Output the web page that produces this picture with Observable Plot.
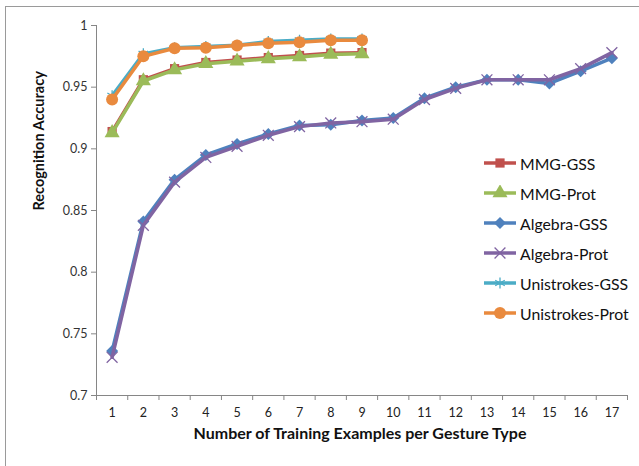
<!DOCTYPE html>
<html><head><meta charset="utf-8">
<script src="https://cdn.jsdelivr.net/npm/d3@7"></script>
<script src="https://cdn.jsdelivr.net/npm/@observablehq/plot@0.6"></script>
<style>
body{margin:0;background:#fff;}
#wrap{position:relative;width:639px;height:466px;font-family:Lato,"Open Sans",sans-serif;overflow:hidden;}
#border{position:absolute;left:5px;top:6px;width:700px;height:520px;border:1.5px solid #9a9a9a;box-sizing:border-box;pointer-events:none;}
#legend{position:absolute;left:483px;top:148px;}
.row{height:30px;display:flex;align-items:center;font-size:15.8px;color:#111;}
.row svg{margin-right:3px;}
</style></head>
<body>
<div id="wrap"><div id="border"></div><div id="legend"></div></div>
<script>
// ---- data ----
const examples = [1,2,3,4,5,6,7,8,9,10,11,12,13,14,15,16,17];
const xBoundaries = [0.5,1.5,2.5,3.5,4.5,5.5,6.5,7.5,8.5,9.5,10.5,11.5,12.5,13.5,14.5,15.5,16.5,17.5];
const yTicks = [0.7,0.75,0.8,0.85,0.9,0.95,1];
const seriesNames = ["MMG-GSS","MMG-Prot","Algebra-GSS","Algebra-Prot","Unistrokes-GSS","Unistrokes-Prot"];
const mmgGss   = [0.914,0.956,0.965,0.970,0.972,0.974,0.9757,0.9776,0.978];
const mmgProt  = [0.913,0.955,0.964,0.969,0.971,0.973,0.9745,0.9765,0.977];
const algebraGss  = [0.736,0.841,0.875,0.895,0.904,0.912,0.919,0.9195,0.923,0.925,0.941,0.950,0.956,0.956,0.953,0.963,0.9735];
const algebraProt = [0.731,0.838,0.873,0.893,0.902,0.911,0.918,0.921,0.922,0.924,0.940,0.949,0.956,0.956,0.956,0.965,0.978];
const uniGss   = [0.943,0.977,0.982,0.983,0.984,0.987,0.988,0.989,0.989];
const uniProt  = [0.940,0.975,0.9816,0.982,0.9838,0.9857,0.9865,0.988,0.988];

const seriesValues = [mmgGss, mmgProt, algebraGss, algebraProt, uniGss, uniProt];
const colors  = ["#C0504D","#9BBB59","#4F81BD","#8064A2","#4BACC6","#E98A3E"];
const symbols = ["square","triangle","diamond2","times","asterisk","circle"];
const symbolR = [5.2,5.6,5.4,5,5.2,6];
const filled  = [true,true,true,false,false,true];

const rows = [];
seriesNames.forEach((name, i) => seriesValues[i].forEach((v, j) => rows.push({series: name, x: examples[j], y: v})));

const marks = [
  Plot.ruleY([0.7], {stroke: "#868686"}),
  Plot.ruleX([0.5], {stroke: "#868686"}),
  Plot.axisY(yTicks, {tickSize: 5, tickPadding: 4, tickFormat: d => String(+d.toFixed(2)), stroke: "#868686", fill: "#333", fontSize: 12.5, label: null}),
  Plot.axisX(xBoundaries, {tickSize: 5, tickFormat: () => "", stroke: "#868686", label: null}),
  Plot.axisX(examples, {tickSize: 0, tickPadding: 13, fill: "#222", fontSize: 12.5, label: null}),
  Plot.text(["Recognition Accuracy"], {text: d => d, frameAnchor: "left", dx: -57, rotate: -90, fontWeight: "bold", fontSize: 14.5, fill: "#111"}),
  Plot.text(["Number of Training Examples per Gesture Type"], {text: d => d, frameAnchor: "bottom", dy: 43, dx: -2, fontWeight: "bold", fontSize: 16, fill: "#111"})
];
seriesNames.forEach((name, i) => {
  const data = rows.filter(r => r.series === name);
  marks.push(Plot.line(data, {x: "x", y: "y", stroke: colors[i], strokeWidth: 3.5}));
  marks.push(Plot.dot(data, filled[i]
    ? {x: "x", y: "y", symbol: () => symbols[i], r: symbolR[i], fill: colors[i], stroke: "none"}
    : {x: "x", y: "y", symbol: () => symbols[i], r: symbolR[i], stroke: colors[i], strokeWidth: 1.3, fill: "none"}));
});

const chart = Plot.plot({
  width: 639, height: 466,
  marginLeft: 96, marginRight: 12, marginTop: 25, marginBottom: 71,
  x: {domain: [0.5, 17.5], axis: null},
  y: {domain: [0.7, 1], axis: null},
  symbol: {type: "identity"},
  style: {fontFamily: "Lato, 'Open Sans', sans-serif", fontSize: "12px", background: "transparent"},
  marks
});
document.getElementById("wrap").insertBefore(chart, document.getElementById("border"));

// legend
const legend = d3.select("#legend");
const symMap = {square: d3.symbolSquare, triangle: d3.symbolTriangle, diamond2: d3.symbolDiamond2, times: d3.symbolTimes, asterisk: d3.symbolAsterisk, circle: d3.symbolCircle};
seriesNames.forEach((name, i) => {
  const row = legend.append("div").attr("class", "row");
  const svg = row.append("svg").attr("width", 34).attr("height", 16);
  svg.append("line").attr("x1", 1).attr("x2", 33).attr("y1", 8).attr("y2", 8).attr("stroke", colors[i]).attr("stroke-width", 3.5);
  const p = svg.append("path").attr("transform", "translate(17,8)")
    .attr("d", d3.symbol(symMap[symbols[i]], Math.PI * symbolR[i] * symbolR[i])());
  if (filled[i]) p.attr("fill", colors[i]); else p.attr("fill", "none").attr("stroke", colors[i]).attr("stroke-width", 1.3);
  row.append("span").text(name);
});
</script>
</body></html>
